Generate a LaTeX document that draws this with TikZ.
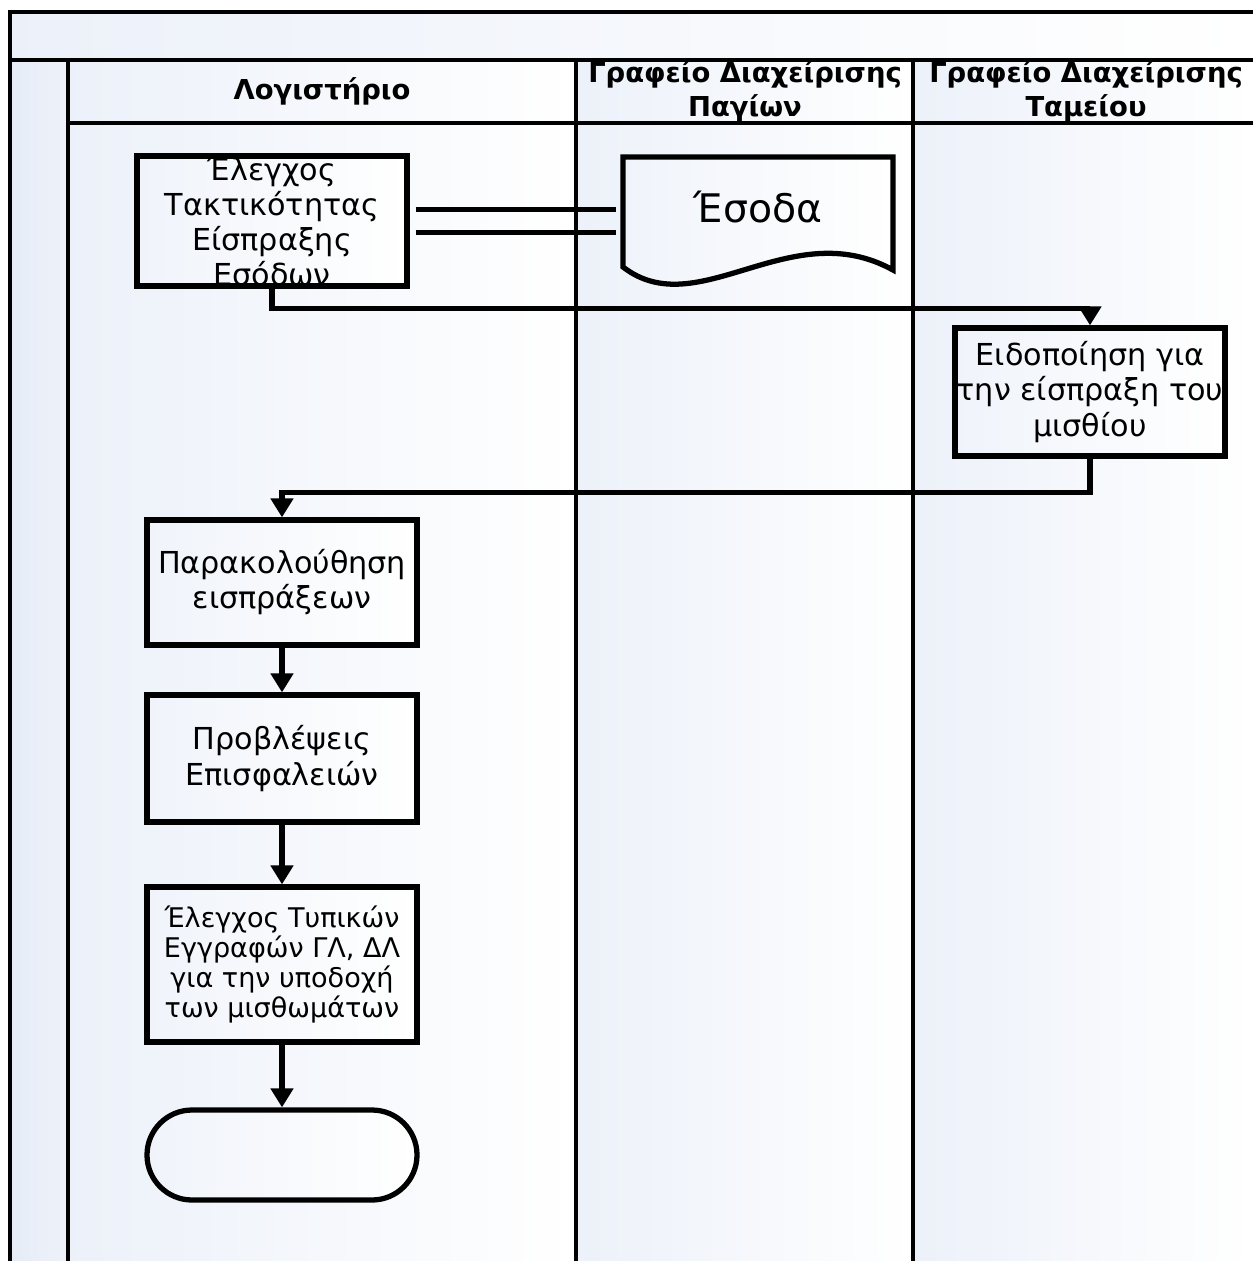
\documentclass[tikz,border=0pt]{standalone}
\usepackage{fontspec}
\setmainfont{DejaVu Sans}
\usepackage{tikz}
\usetikzlibrary{arrows.meta, positioning, calc}
\definecolor{lanebg}{HTML}{E6ECF7}

\begin{document}
\begin{tikzpicture}[
    lane/.style={left color=lanebg!75, right color=white},
    hdr/.style={font=\fontsize{7.8}{9.7}\selectfont\bfseries, align=center},
    box/.style={rectangle, draw=black, line width=1.5pt, left color=lanebg!60,
                right color=white, minimum width=2.7cm, align=center,
                inner sep=0pt, font=\fontsize{8.6}{10}\selectfont},
    rule/.style={line width=1.3pt},
    arrow/.style={-{Triangle[length=1.9mm, width=2.2mm]}, line width=1.5pt}
  ]
    \useasboundingbox (0,0) rectangle (12.53,-12.61);

    % Lanes
    \fill[lane] (0.10,-0.12) rectangle (12.53,-0.60);
    \fill[left color=lanebg, right color=lanebg!70] (0.10,-0.60) rectangle (0.68,-12.61);
    \fill[lane] (0.68,-0.60) rectangle (5.76,-1.23);
    \fill[lane] (5.76,-0.60) rectangle (9.13,-1.23);
    \fill[lane] (9.13,-0.60) rectangle (12.53,-1.23);
    \fill[lane] (0.68,-1.23) rectangle (5.76,-12.61);
    \fill[lane] (5.76,-1.23) rectangle (9.13,-12.61);
    \fill[lane] (9.13,-1.23) rectangle (12.53,-12.61);
    \draw[rule] (12.53,-0.12) -- (0.10,-0.12) -- (0.10,-12.61);
    \draw[rule] (0.10,-0.60) -- (12.53,-0.60);
    \draw[rule] (0.68,-1.23) -- (12.53,-1.23);
    \foreach \x in {0.68, 5.76, 9.13}
      \draw[rule] (\x,-0.60) -- (\x,-12.61);

    % Headers
    \node[hdr] (hacc)  at (3.22,-0.915)  {Λογιστήριο};
    \node[hdr] (hfix)  at (7.45,-0.915)  {Γραφείο Διαχείρισης\\Παγίων};
    \node[hdr] (hcash) at (10.86,-0.915) {Γραφείο Διαχείρισης\\Ταμείου};

    % Steps
    \node[box, minimum height=1.28cm] (chk) at (2.72,-2.21)
      {Έλεγχος\\Τακτικότητας\\Είσπραξης\\Εσόδων};
    \draw[line width=1.5pt, left color=lanebg!60, right color=white]
      (6.23,-1.57) -- (8.93,-1.57) -- (8.93,-2.70)
      .. controls +(-1.03,0.57) and +(0.75,-0.58) .. (6.23,-2.67) -- cycle;
    \node[minimum width=2.7cm, minimum height=1.0cm, inner sep=0pt,
          font=\fontsize{11.2}{13}\selectfont] (esoda) at (7.58,-2.07) {Έσοδα};
    \node[box, minimum height=1.28cm] (notify) at (10.90,-3.92)
      {Ειδοποίηση για\\την είσπραξη του\\μισθίου};
    \node[box, minimum height=1.25cm] (monitor) at (2.82,-5.825)
      {Παρακολούθηση\\εισπράξεων};
    \node[box, minimum height=1.27cm] (provision) at (2.82,-7.585)
      {Προβλέψεις\\Επισφαλειών};
    \node[box, minimum height=1.55cm, font=\fontsize{7.7}{8.6}\selectfont]
      (checkgl) at (2.82,-9.645)
      {Έλεγχος Τυπικών\\Εγγραφών ΓΛ, ΔΛ\\για την υποδοχή\\των μισθωμάτων};
    \node[box, minimum height=0.9cm, rounded corners=0.45cm] (finish) at (2.82,-11.55) {};

    % Links
    \foreach \dy in {0.115,-0.115}
      \draw[rule] ($(chk.east)+(0.06,\dy)$) -- ($(chk.east -| esoda.west)+(-0.06,\dy)$);
    \draw[arrow] (chk.south) -- ++(0,-0.20) -| (notify.north);
    \draw[arrow] (notify.south) -- ++(0,-0.34) -| (monitor.north);
    \draw[arrow] (monitor) -- (provision);
    \draw[arrow] (provision) -- (checkgl);
    \draw[arrow] (checkgl) -- (finish);
  \end{tikzpicture}
\end{document}
